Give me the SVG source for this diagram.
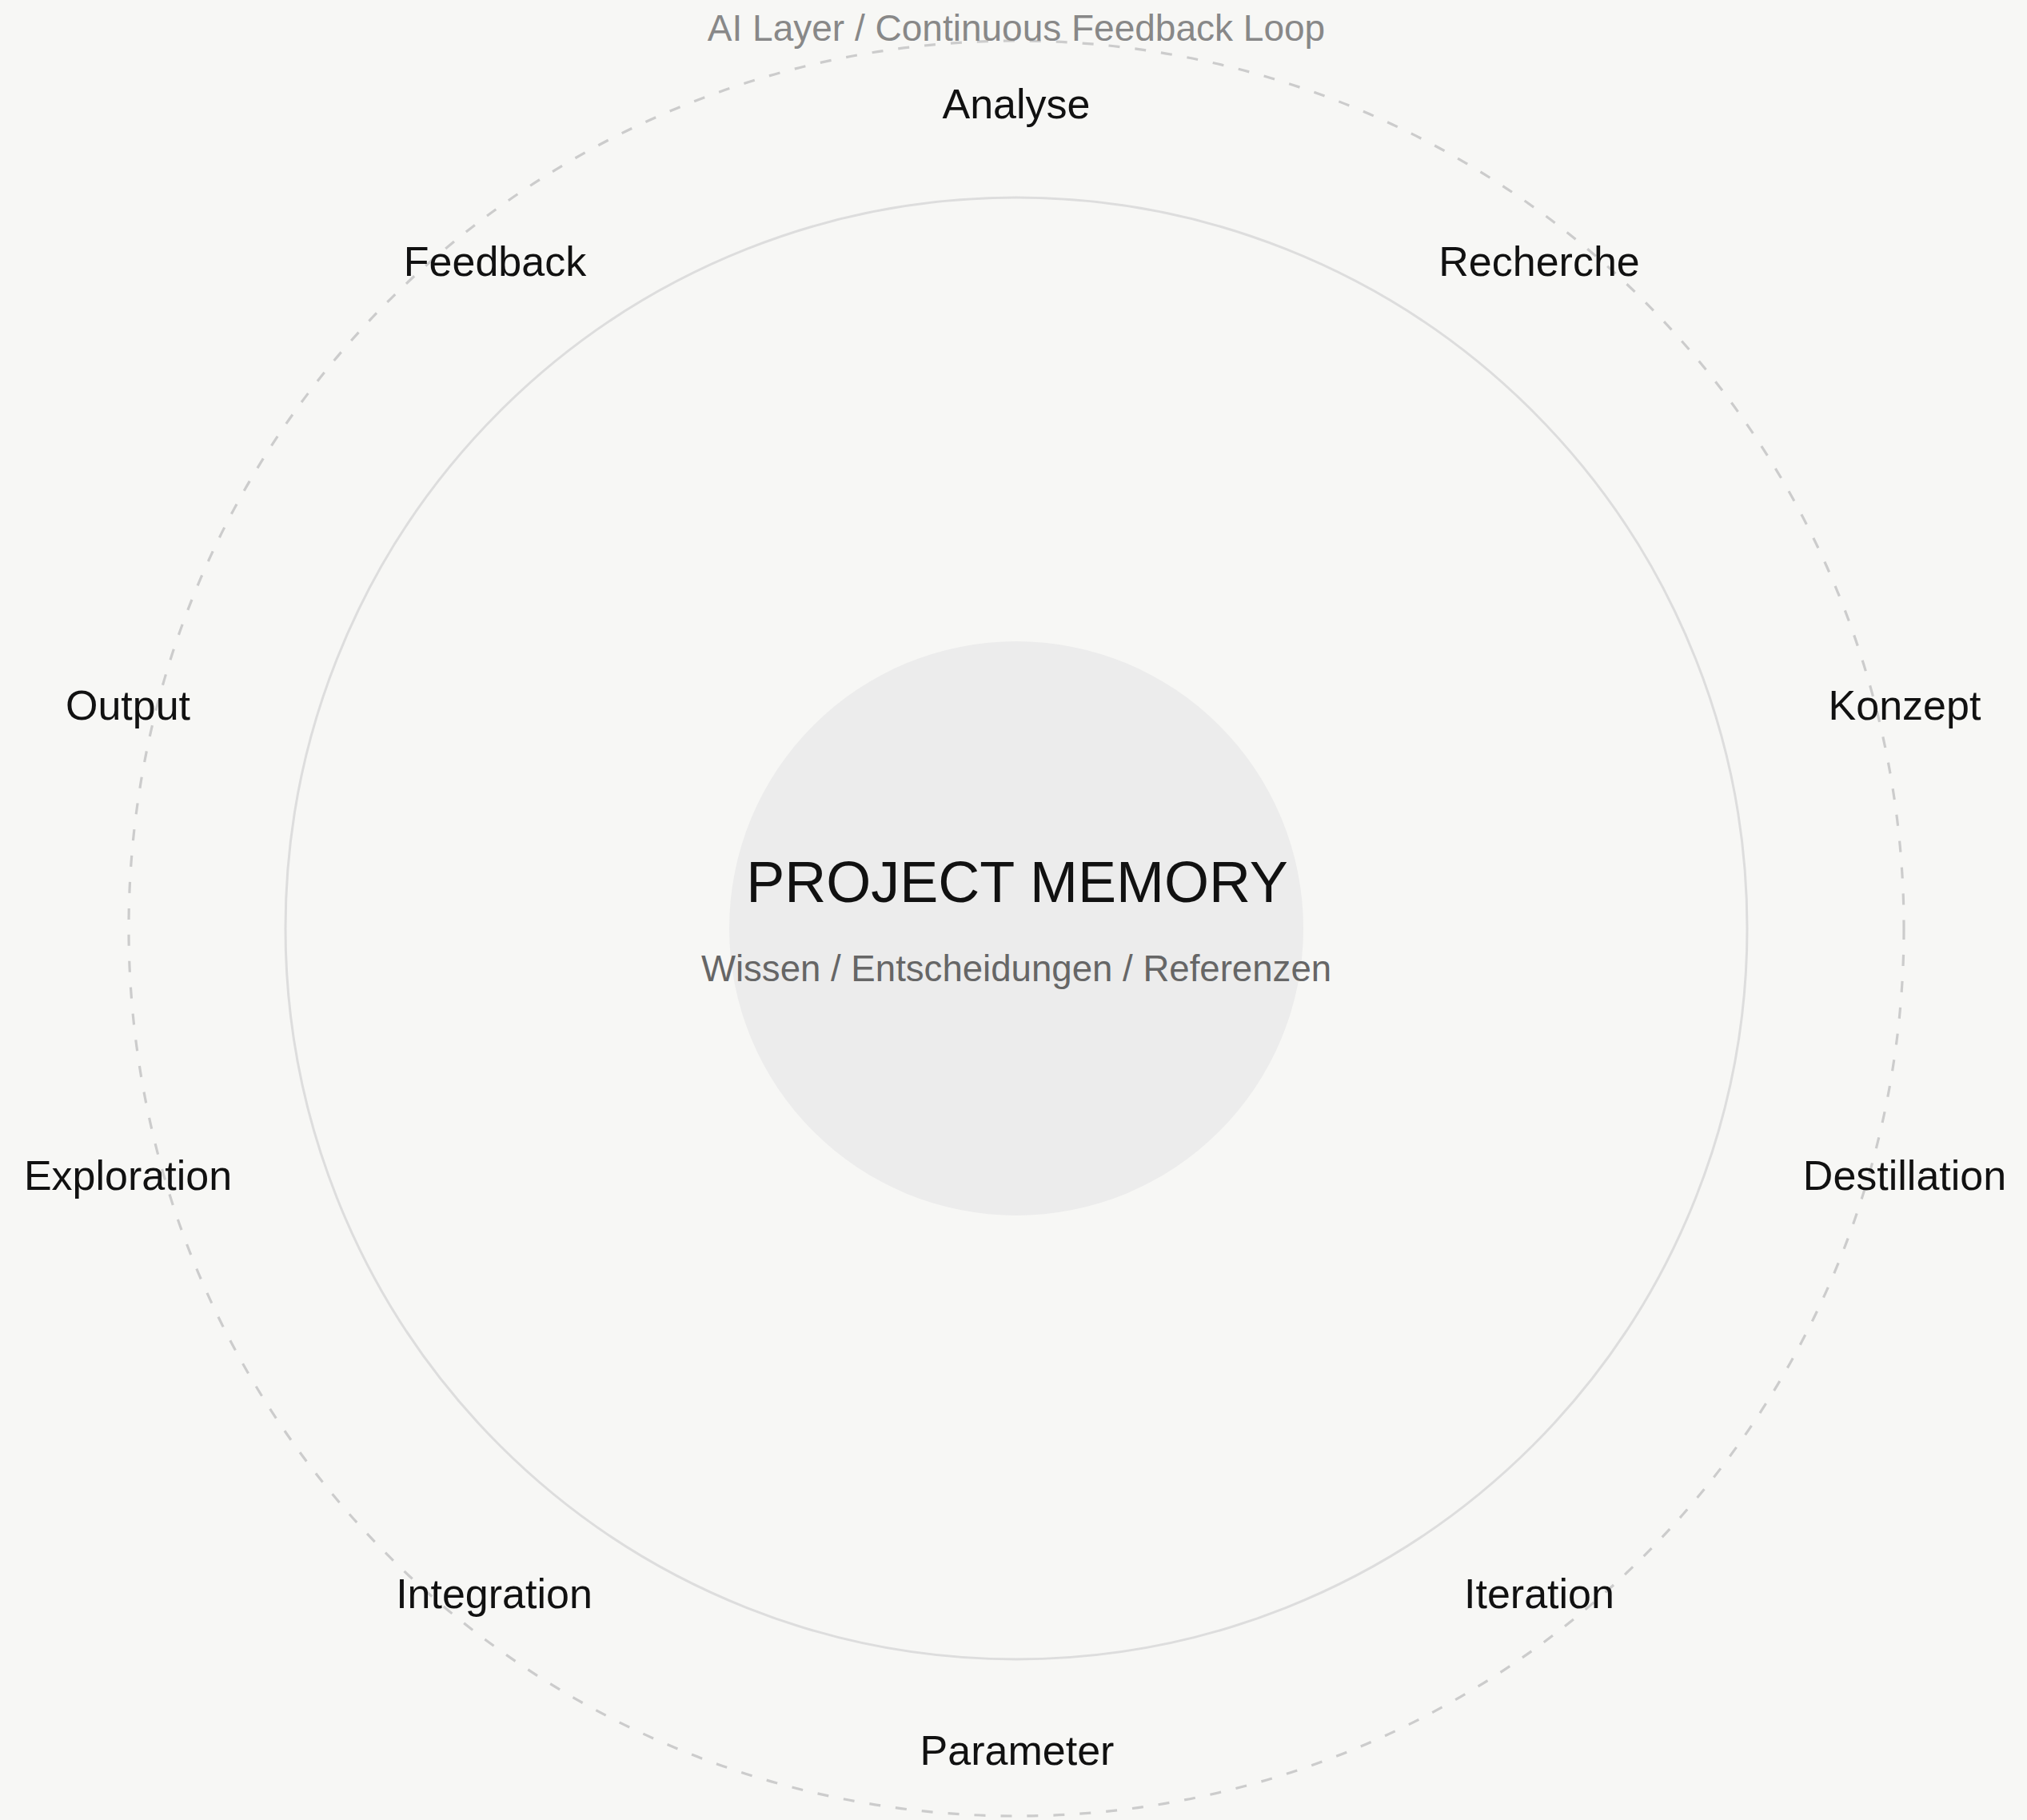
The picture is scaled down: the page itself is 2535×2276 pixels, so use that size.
<svg xmlns="http://www.w3.org/2000/svg" width="2535" height="2276" viewBox="0 0 2535 2276">
  <style>
    .bg { fill: #f7f7f5; }
    .ring-outer { fill: none; stroke: #cccccc; stroke-width: 3.2; stroke-dasharray: 14 19; }
    .ring-inner { fill: none; stroke: #dddddd; stroke-width: 3; }
    .core { fill: #ececec; }
    .label { font-family: "Liberation Sans", Arial, sans-serif; font-size: 52px; fill: #111111; text-anchor: middle; }
    .title { font-family: "Liberation Sans", Arial, sans-serif; font-size: 72px; fill: #111111; text-anchor: middle; }
    .sub { font-family: "Liberation Sans", Arial, sans-serif; font-size: 45.6px; fill: #666666; text-anchor: middle; }
    .layer { font-family: "Liberation Sans", Arial, sans-serif; font-size: 46px; fill: #888888; text-anchor: middle; }
  </style>
  <rect class="bg" x="0" y="0" width="2535" height="2276"/>
  <g id="rings">
    <circle class="ring-outer" cx="1271" cy="1161" r="1110"/>
    <circle class="ring-inner" cx="1271" cy="1161" r="914"/>
  </g>
  <g id="ai-layer">
    <text class="layer" x="1271" y="51">AI Layer / Continuous Feedback Loop</text>
  </g>
  <g id="project-memory">
    <circle class="core" cx="1271" cy="1161" r="359"/>
    <text class="title" x="1272" y="1128">PROJECT MEMORY</text>
    <text class="sub" x="1271" y="1227">Wissen / Entscheidungen / Referenzen</text>
  </g>
  <g id="connectors"></g>
  <g id="node-analyse"><text class="label" x="1271" y="148">Analyse</text></g>
  <g id="node-recherche"><text class="label" x="1925" y="345">Recherche</text></g>
  <g id="node-konzept"><text class="label" x="2382" y="900">Konzept</text></g>
  <g id="node-destillation"><text class="label" x="2382" y="1488">Destillation</text></g>
  <g id="node-iteration"><text class="label" x="1925" y="2011">Iteration</text></g>
  <g id="node-parameter"><text class="label" x="1272" y="2207">Parameter</text></g>
  <g id="node-integration"><text class="label" x="618" y="2011">Integration</text></g>
  <g id="node-exploration"><text class="label" x="160" y="1488">Exploration</text></g>
  <g id="node-output"><text class="label" x="160" y="900">Output</text></g>
  <g id="node-feedback"><text class="label" x="619" y="345">Feedback</text></g>
</svg>
